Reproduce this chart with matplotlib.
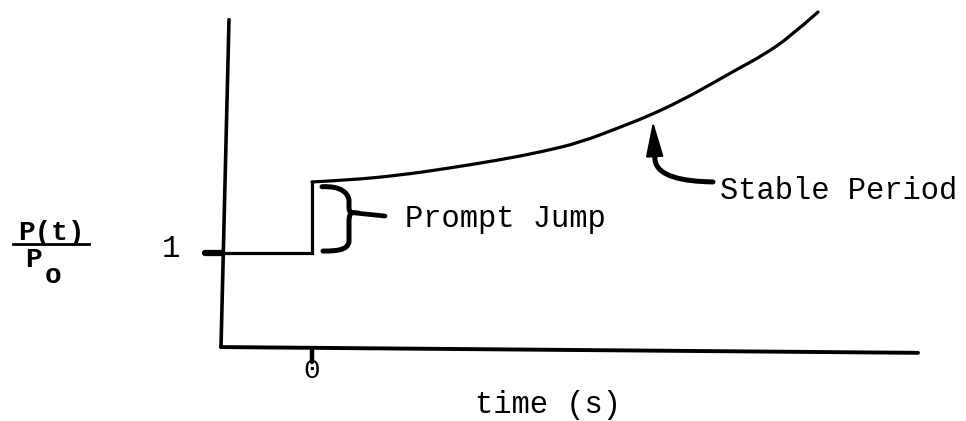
import matplotlib.pyplot as plt
from matplotlib.path import Path
from matplotlib.patches import PathPatch, FancyArrowPatch

# relative power P(t)/P0 vs time (arbitrary units)
t_before = [-1.07, 0.0]
p_before = [1.0, 1.0]
p_jump = 1.74

t_curve = [0.00, 0.38, 0.88, 1.38, 1.88, 2.28, 2.68, 3.08, 3.35, 3.68, 4.01, 4.28, 4.51, 4.78, 5.06]
p_curve = [1.74, 1.76, 1.81, 1.885, 1.97, 2.05, 2.15, 2.31, 2.42, 2.58, 2.77, 2.93, 3.06, 3.25, 3.51]

# hand drawn axes (slightly tilted in the original)
yaxis_t = [-0.83, -0.91]
yaxis_p = [3.43, 0.02]
xaxis_t = [-0.91, 6.06]
xaxis_p = [0.02, -0.04]

x_tick = 0
y_tick = 1

font = 'Liberation Mono'
fs = 22

fig = plt.figure(figsize=(9.66, 4.21), dpi=100)
ax = fig.add_axes([0, 0, 1, 1])
ax.set_xlim(-3.12, 6.54)
ax.set_ylim(-0.75, 3.635)
ax.axis('off')

lw = 2.3
ax.plot(yaxis_t, yaxis_p, color='black', lw=2.6, solid_capstyle='round')
ax.plot(xaxis_t, xaxis_p, color='black', lw=2.8, solid_capstyle='round')
ax.plot([x_tick, x_tick], [0.0, -0.14], color='black', lw=3.2, solid_capstyle='round')

# power trace: flat, prompt jump, then stable period rise
ax.plot(t_before, p_before, color='black', lw=lw, solid_capstyle='round')
ax.plot([t_before[0], -0.9], [1.0, 1.0], color='black', lw=4.5, solid_capstyle='round')
ax.plot([0, 0], [1.0, p_jump], color='black', lw=lw, solid_joinstyle='miter')

# smooth the read points with quadratic segments through their midpoints
pts = list(zip(t_curve, p_curve))
cverts = [pts[0]]
ccodes = [Path.MOVETO]
for i in range(1, len(pts) - 1):
    mid = ((pts[i][0] + pts[i + 1][0]) / 2, (pts[i][1] + pts[i + 1][1]) / 2)
    if i == len(pts) - 2:
        mid = pts[-1]
    cverts += [pts[i], mid]
    ccodes += [Path.CURVE3, Path.CURVE3]
ax.add_patch(PathPatch(Path(cverts, ccodes), fill=False, lw=lw, capstyle='round'))

# curly brace for the prompt jump
verts = [(0.10, 1.69), (0.30, 1.70), (0.36, 1.62), (0.37, 1.55),
         (0.37, 1.48),
         (0.37, 1.44), (0.38, 1.42), (0.40, 1.42),
         (0.38, 1.41), (0.37, 1.38), (0.37, 1.33),
         (0.37, 1.12),
         (0.36, 1.03), (0.25, 1.02), (0.11, 1.02)]
codes = [Path.MOVETO, Path.CURVE4, Path.CURVE4, Path.CURVE4,
         Path.LINETO,
         Path.CURVE4, Path.CURVE4, Path.CURVE4,
         Path.CURVE4, Path.CURVE4, Path.CURVE4,
         Path.LINETO,
         Path.CURVE4, Path.CURVE4, Path.CURVE4]
ax.add_patch(PathPatch(Path(verts, codes), fill=False, lw=3.6, capstyle='round'))
ax.plot([0.40, 0.73], [1.42, 1.385], color='black', lw=3.4, solid_capstyle='round')
ax.text(0.93, 1.27, 'Prompt Jump', family=font, fontsize=fs, va='baseline')

# curved arrow to the stable period
shaft = Path([(4.01, 1.74), (3.70, 1.745), (3.45, 1.80), (3.43, 1.97), (3.42, 2.12)],
             [Path.MOVETO, Path.CURVE4, Path.CURVE4, Path.CURVE4, Path.LINETO])
ax.add_patch(PathPatch(shaft, fill=False, lw=3.6, capstyle='round'))
head = FancyArrowPatch((3.425, 2.05), (3.41, 2.37),
                       arrowstyle='-|>,head_length=2.2,head_width=0.55',
                       mutation_scale=10, lw=1.5, color='black', shrinkA=0, shrinkB=0)
ax.add_patch(head)
ax.text(4.08, 1.5625, 'Stable Period', family=font, fontsize=fs, va='baseline')

# axis labels
ax.text(x_tick, -0.30, '0', family=font, fontsize=fs - 2, ha='center', va='baseline')
ax.text(-1.41, y_tick - 0.04, '1', family=font, fontsize=fs, ha='center', va='baseline')
ax.text(2.36, -0.67, 'time (s)', family=font, fontsize=fs, ha='center', va='baseline')
ax.text(-2.61, 1.135, 'P(t)', family=font, fontsize=fs - 2, weight='bold', ha='center', va='baseline')
ax.plot([-2.99, -2.23], [1.094, 1.094], color='black', lw=2.0)
ax.text(-2.87, 0.854, 'P', family=font, fontsize=fs - 2, weight='bold', va='baseline')
ax.text(-2.67, 0.6875, 'o', family=font, fontsize=fs - 2, weight='bold', va='baseline')

plt.savefig('out.png', dpi=100)
